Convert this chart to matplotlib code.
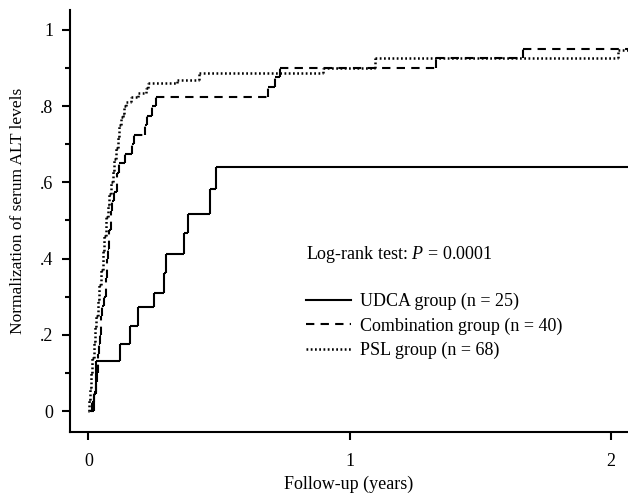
import matplotlib
matplotlib.use("Agg")
import matplotlib.pyplot as plt
from matplotlib.collections import LineCollection
from matplotlib.lines import Line2D

plt.rcParams['font.family'] = ['Liberation Serif', 'DejaVu Serif']
plt.rcParams['mathtext.fontset'] = 'custom'
plt.rcParams['mathtext.rm'] = 'Liberation Serif'
plt.rcParams['mathtext.it'] = 'Liberation Serif:italic'

# step times (years) and cumulative normalization reached at each time
udca_t = [0.01, 0.023, 0.03, 0.12, 0.16, 0.19, 0.253, 0.291, 0.298, 0.368, 0.380, 0.466, 0.489]
udca_y = [0.0, 0.045, 0.13, 0.177, 0.224, 0.272, 0.31, 0.363, 0.413, 0.468, 0.518, 0.583, 0.64]

comb_t = [0.008, 0.015, 0.022, 0.028, 0.032, 0.036, 0.040, 0.044, 0.049, 0.054,
          0.060, 0.066, 0.071, 0.074, 0.080, 0.087, 0.092, 0.098, 0.111, 0.119,
          0.142, 0.169, 0.176, 0.215, 0.226, 0.245, 0.259, 0.687, 0.716, 0.732,
          1.330, 1.664]
comb_y = [0.0, 0.025, 0.05, 0.075, 0.10, 0.15, 0.175, 0.20, 0.25, 0.275,
          0.30, 0.35, 0.40, 0.425, 0.475, 0.525, 0.55, 0.575, 0.625, 0.65,
          0.675, 0.70, 0.725, 0.75, 0.775, 0.80, 0.825, 0.85, 0.875, 0.90,
          0.925, 0.95]

psl_t = [0.0, 0.003, 0.006, 0.010, 0.014, 0.020, 0.026, 0.031, 0.036, 0.042,
         0.048, 0.055, 0.061, 0.068, 0.074, 0.080, 0.087, 0.094, 0.100, 0.106,
         0.112, 0.119, 0.125, 0.131, 0.138, 0.144, 0.164, 0.189, 0.221, 0.227,
         0.341, 0.425, 0.898, 1.096, 2.027]
psl_y = [0.0, 0.03, 0.06, 0.10, 0.14, 0.18, 0.22, 0.25, 0.29, 0.33,
         0.37, 0.42, 0.46, 0.51, 0.54, 0.57, 0.60, 0.63, 0.66, 0.69,
         0.72, 0.75, 0.77, 0.78, 0.80, 0.81, 0.825, 0.833, 0.846, 0.86,
         0.868, 0.886, 0.90, 0.925, 0.946]

end_time = 2.1  # last follow-up, curves run off the right edge

labels = ["UDCA group (n = 25)", "Combination group (n = 40)", "PSL group (n = 68)"]
styles = ['-', (0, (4, 3)), (0, (0.7, 1.0))]
widths = [1.5, 1.5, 1.8]
ytick_vals = [0, 0.2, 0.4, 0.6, 0.8, 1]
ytick_labels = ["0", ".2", ".4", ".6", ".8", "1"]
yminor_vals = [0.1, 0.3, 0.5, 0.7, 0.9]
xtick_vals = [0, 1, 2]


def step_segments(t, y, t_end):
    # each piece drawn on its own so dash pattern restarts at every step (like stata)
    segs = []
    for i in range(len(t)):
        t_next = t[i + 1] if i + 1 < len(t) else t_end
        segs.append([(t[i], y[i]), (t_next, y[i])])
        if i + 1 < len(t):
            segs.append([(t_next, y[i]), (t_next, y[i + 1])])
    return segs


fig = plt.figure(figsize=(6.28, 4.98), dpi=100)
ax = fig.add_axes([0.1115, 0.1325, 0.8885, 0.8475])

curves = [(udca_t, udca_y), (comb_t, comb_y), (psl_t, psl_y)]
handles = []
for (t, y), ls, lw in zip(curves, styles, widths):
    lc = LineCollection(step_segments(t, y, end_time), colors='black',
                        linewidths=lw, linestyles=[ls], capstyle='butt')
    ax.add_collection(lc)
    handles.append(Line2D([], [], color='black', lw=lw, linestyle=ls))

ax.set_xlim(-0.070, 2.065)
ax.set_ylim(-0.055, 1.052)

for s in ['top', 'right']:
    ax.spines[s].set_visible(False)
for s in ['left', 'bottom']:
    ax.spines[s].set_linewidth(1.5)

ax.set_yticks(ytick_vals)
ax.set_yticklabels(ytick_labels)
ax.set_yticks(yminor_vals, minor=True)
ax.set_xticks(xtick_vals)
ax.tick_params(axis='both', which='major', labelsize=13, width=1.5, length=6, direction='out')
ax.tick_params(axis='y', which='minor', width=1.5, length=3.5, direction='out')
ax.tick_params(axis='x', which='major', pad=9)
ax.tick_params(axis='y', which='major', pad=6)

ax.set_xlabel("Follow-up (years)", fontsize=13)
ax.xaxis.set_label_coords(0.5, -0.104)
ax.set_ylabel("Normalization of serum ALT levels", fontsize=12.5)
ax.yaxis.set_label_coords(-0.079, 0.525)

ax.text(0.423, 0.42, "Log-rank test: $P$ = 0.0001", transform=ax.transAxes,
        fontsize=13, ha='left', va='center')
ax.legend(handles, labels, loc='upper left', bbox_to_anchor=(0.423, 0.33),
          frameon=False, fontsize=13, borderpad=0, borderaxespad=0,
          handlelength=2.5, handletextpad=0.5, labelspacing=0.4)

fig.savefig("out.png", dpi=100)
